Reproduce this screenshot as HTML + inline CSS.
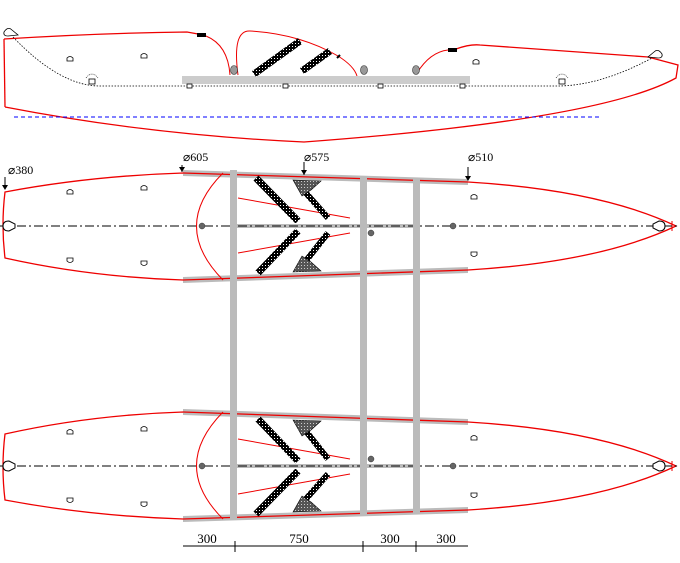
<!DOCTYPE html>
<html><head><meta charset="utf-8"><style>html,body{margin:0;padding:0;background:#fff}svg{display:block}</style></head>
<body>
<svg width="680" height="563" viewBox="0 0 680 563" xmlns="http://www.w3.org/2000/svg" font-family="Liberation Serif, serif">
<defs>
<pattern id="dots" width="3" height="3" patternUnits="userSpaceOnUse"><rect width="3" height="3" fill="#000"/><rect x="1" y="1" width="1" height="1" fill="#fff"/></pattern>
<pattern id="gdots" width="3" height="3" patternUnits="userSpaceOnUse"><rect width="3" height="3" fill="#555"/><rect x="1" y="1" width="1" height="1" fill="#ccc"/></pattern>
<g id="hull">
  <path d="M5,192 Q90,176 183,173 L468,182 Q600,190 676,226 Q600,262 468,270 L183,280 Q90,277 5,258 Q1,225 5,192 Z" fill="none" stroke="#e00" stroke-width="1.3"/>
  <line x1="672" y1="221" x2="672" y2="231" stroke="#e00"/>
  <polygon points="183,170 468,179 468,185 183,176" fill="#bbb"/>
  <polygon points="183,277 468,267 468,273 183,283" fill="#bbb"/>
  <line x1="183" y1="173" x2="468" y2="182" stroke="#e00" stroke-width="1.3"/>
  <line x1="183" y1="280" x2="468" y2="270" stroke="#e00" stroke-width="1.3"/>
  <path d="M223,173 Q170,226 223,280" fill="none" stroke="#e00"/>
  <line x1="238" y1="198" x2="350" y2="218" stroke="#e00"/>
  <line x1="238" y1="253" x2="350" y2="233" stroke="#e00"/>
  <rect x="236" y="224" width="180" height="4" fill="#bbb"/>
  <line x1="0" y1="226" x2="680" y2="226" stroke="#000" stroke-dasharray="9,3,2,3"/>
  <line x1="256" y1="178" x2="298" y2="221" stroke="url(#dots)" stroke-width="7"/>
  <line x1="298" y1="231" x2="258" y2="273" stroke="url(#dots)" stroke-width="7"/>
  <line x1="305" y1="192" x2="328" y2="218" stroke="url(#dots)" stroke-width="6"/>
  <line x1="328" y1="233" x2="305" y2="262" stroke="url(#dots)" stroke-width="6"/>
  <polygon points="293,180 321,181 311,190 302,196" fill="url(#gdots)" stroke="#000" stroke-width="0.6"/>
  <polygon points="293,272 321,271 311,262 302,256" fill="url(#gdots)" stroke="#000" stroke-width="0.6"/>
  <circle cx="202" cy="226" r="3" fill="#666" stroke="#333" stroke-width="0.5"/>
  <circle cx="371" cy="233" r="3" fill="#666" stroke="#333" stroke-width="0.5"/>
  <circle cx="453" cy="226" r="3" fill="#666" stroke="#333" stroke-width="0.5"/>
  <path d="M3,226 q0,-5 6,-5 l6,3 l0,4 l-6,3 q-6,0 -6,-5z" fill="#fff" stroke="#000"/>
  <path d="M665,226 q0,-5 -6,-5 l-6,3 l0,4 l6,3 q6,0 6,-5z" fill="#fff" stroke="#000"/>
  <g fill="#fff" stroke="#000" stroke-width="0.8">
    <path d="M67,194 v-3 q3,-3 6,0 v3z"/><path d="M141,190 v-3 q3,-3 6,0 v3z"/><path d="M471,199 v-3 q3,-3 6,0 v3z"/>
    <path d="M67,258 v3 q3,3 6,0 v-3z"/><path d="M141,261 v3 q3,3 6,0 v-3z"/><path d="M471,252 v3 q3,3 6,0 v-3z"/>
  </g>
</g>
</defs>
<!-- side view -->
<path d="M4,39 Q100,33 187,32 L198,34" fill="none" stroke="#e00" stroke-width="1.3"/>
<path d="M206,36 Q228,45 230,75" fill="none" stroke="#e00"/>
<path d="M238,75 Q232,30 250,31 Q300,34 338,56 Q354,66 357,76" fill="none" stroke="#e00"/>
<path d="M417,73 Q430,52 448,50" fill="none" stroke="#e00"/>
<path d="M456,49 Q470,44 480,45 L648,57 L678,65 L676,78 Q600,120 304,142 Q150,135 5,107" fill="none" stroke="#e00" stroke-width="1.3"/>
<line x1="4" y1="39" x2="5" y2="107" stroke="#e00" stroke-width="1.3"/>
<rect x="197" y="33" width="9" height="4" fill="#000"/>
<rect x="448" y="48" width="9" height="4" fill="#000"/>
<path d="M13,37 Q60,86 100,86 L557,86 Q600,86 652,58" fill="none" stroke="#000" stroke-width="0.8" stroke-dasharray="1.5,1.5"/>
<path d="M4,32 q4,-6 8,-2 l6,5 l-10,1 q-5,0 -4,-4z" fill="#fff" stroke="#000" stroke-width="0.8"/>
<path d="M662,54 q-4,-6 -8,-2 l-6,5 l10,1 q5,0 4,-4z" fill="#fff" stroke="#000" stroke-width="0.8"/>
<rect x="182" y="76" width="288" height="8" fill="#ccc"/>
<line x1="14" y1="117" x2="601" y2="117" stroke="#00f" stroke-dasharray="4,3"/>
<line x1="254" y1="74" x2="300" y2="41" stroke="url(#dots)" stroke-width="7"/>
<line x1="302" y1="71" x2="330" y2="51" stroke="url(#dots)" stroke-width="7"/>
<line x1="337" y1="58" x2="340" y2="55" stroke="#000" stroke-width="2"/>
<ellipse cx="234" cy="70" rx="3.5" ry="4.5" fill="#999" stroke="#333" stroke-width="0.6"/>
<ellipse cx="364" cy="70" rx="3.5" ry="4.5" fill="#999" stroke="#333" stroke-width="0.6"/>
<ellipse cx="416" cy="70" rx="3.5" ry="4.5" fill="#999" stroke="#333" stroke-width="0.6"/>
<g fill="#fff" stroke="#000" stroke-width="0.8">
  <path d="M67,61 v-3 q3,-3 6,0 v3z"/><path d="M141,58 v-3 q3,-3 6,0 v3z"/><path d="M473,64 v-3 q3,-3 6,0 v3z"/>
  <rect x="89" y="79" width="6" height="5"/><rect x="187" y="84" width="5" height="4"/><rect x="283" y="84" width="5" height="4"/><rect x="378" y="84" width="5" height="4"/><rect x="460" y="84" width="5" height="4"/><rect x="559" y="79" width="6" height="5"/>
</g>
<path d="M86,78 q6,-8 12,0" fill="none" stroke="#000" stroke-width="0.6" stroke-dasharray="1,1"/>
<path d="M556,78 q6,-8 12,0" fill="none" stroke="#000" stroke-width="0.6" stroke-dasharray="1,1"/>
<!-- top views -->
<use href="#hull"/>
<use href="#hull" transform="translate(0,692) scale(1,-1)"/>
<rect x="230" y="170" width="7" height="350" fill="#bbb"/>
<rect x="360" y="176" width="7" height="340" fill="#bbb"/>
<rect x="413" y="178" width="7" height="336" fill="#bbb"/>
<!-- labels -->
<g font-size="12" fill="#000">
  <text x="8" y="174">⌀380</text>
  <text x="183" y="161">⌀605</text>
  <text x="304" y="161">⌀575</text>
  <text x="468" y="161">⌀510</text>
</g>
<g stroke="#000" stroke-width="1">
  <line x1="5" y1="177" x2="5" y2="189"/><line x1="182" y1="165" x2="182" y2="172"/><line x1="304" y1="162" x2="304" y2="175"/><line x1="468" y1="167" x2="468" y2="180"/>
</g>
<g fill="#000"><path d="M2,185 h6 l-3,5z"/><path d="M179,167 h6 l-3,5z"/><path d="M301,170 h6 l-3,5z"/><path d="M465,176 h6 l-3,5z"/></g>
<!-- dimensions -->
<line x1="183" y1="546" x2="468" y2="546" stroke="#000"/>
<g stroke="#000"><line x1="235" y1="541" x2="235" y2="552"/><line x1="363" y1="541" x2="363" y2="552"/><line x1="416" y1="541" x2="416" y2="552"/></g>
<g font-size="13" text-anchor="middle" fill="#000">
  <text x="207" y="543">300</text><text x="299" y="543">750</text><text x="390" y="543">300</text><text x="446" y="543">300</text>
</g>
</svg>
</body></html>
